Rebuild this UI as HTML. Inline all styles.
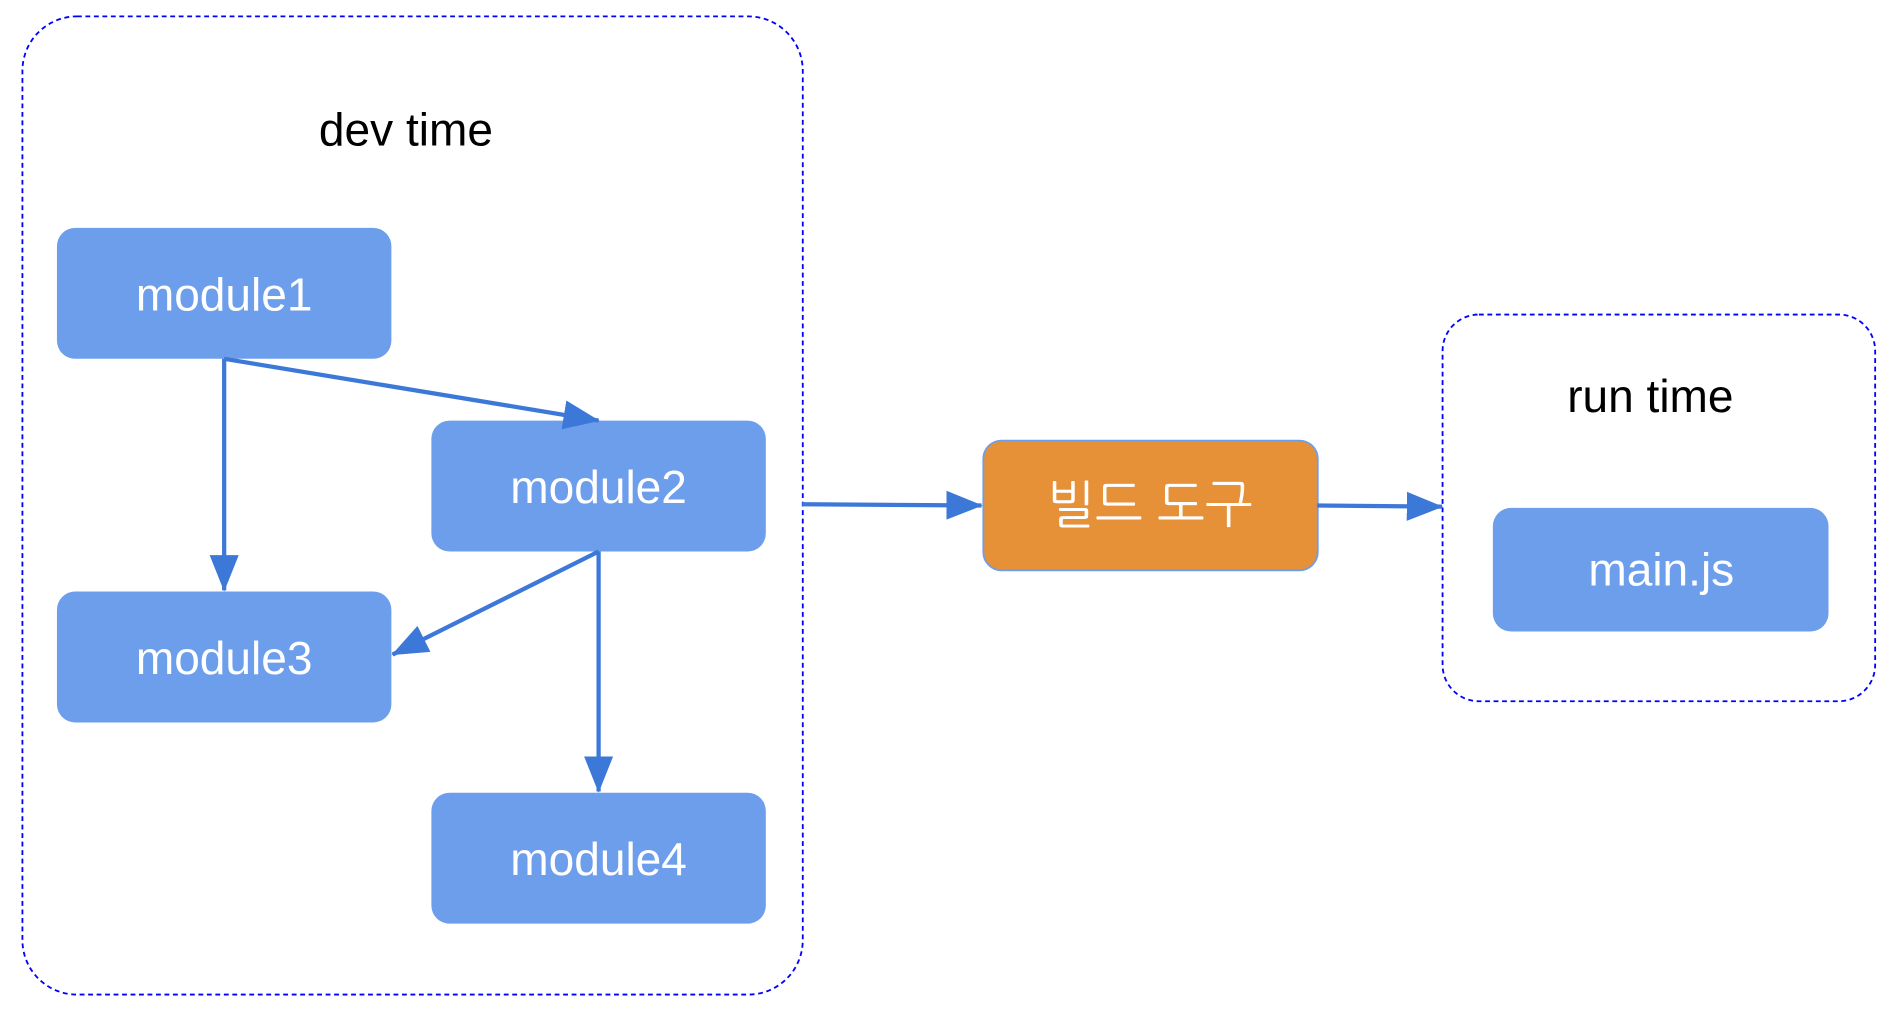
<!DOCTYPE html>
<html><head><meta charset="utf-8"><style>html,body{margin:0;padding:0;background:#fff;}svg{display:block}</style></head>
<body>
<svg width="1900" height="1017" viewBox="0 0 1568 839" preserveAspectRatio="none" xmlns="http://www.w3.org/2000/svg">
<defs>
<marker id="b" viewBox="0 0 30 24" refX="29" refY="12" markerWidth="30" markerHeight="24" orient="auto" markerUnits="userSpaceOnUse">
<path d="M0,0 L30,12 L0,24 Z" fill="#3c78d8"/></marker>
</defs>
<rect x="18.5" y="13.5" width="644" height="807" rx="45" fill="none" stroke="#0000ff" stroke-width="1.5" stroke-dasharray="4,3"/>
<rect x="1190.5" y="259.5" width="357" height="319" rx="30" fill="none" stroke="#0000ff" stroke-width="1.5" stroke-dasharray="4,3"/>
<g font-family="Liberation Sans, sans-serif" font-size="38" text-anchor="middle">
<text x="335" y="120" fill="#000">dev time</text>
<text x="1362" y="340" fill="#000">run time</text>
<rect x="47" y="188" width="276" height="108" rx="15" fill="#6d9eeb"/>
<text x="185" y="256" fill="#fff">module1</text>
<rect x="356" y="347" width="276" height="108" rx="15" fill="#6d9eeb"/>
<text x="494" y="415" fill="#fff">module2</text>
<rect x="47" y="488" width="276" height="108" rx="15" fill="#6d9eeb"/>
<text x="185" y="556" fill="#fff">module3</text>
<rect x="356" y="654" width="276" height="108" rx="15" fill="#6d9eeb"/>
<text x="494" y="722" fill="#fff">module4</text>
<rect x="811.5" y="363.5" width="276" height="107" rx="15" fill="#e69138" stroke="#6d9eeb" stroke-width="1.5"/>
<text x="949" y="431" fill="#fff" font-size="42" font-family="Liberation Sans, NanumGothic, 'Noto Sans CJK KR', sans-serif">빌드 도구</text>
<rect x="1232" y="419" width="277" height="102" rx="15" fill="#6d9eeb"/>
<text x="1371" y="483" fill="#fff">main.js</text>
</g>
<g stroke="#3c78d8" stroke-width="3.5" fill="none">
<line x1="185" y1="296" x2="185" y2="487" marker-end="url(#b)"/>
<line x1="185" y1="296" x2="494" y2="347" marker-end="url(#b)"/>
<line x1="494" y1="455" x2="324" y2="540" marker-end="url(#b)"/>
<line x1="494" y1="455" x2="494" y2="653" marker-end="url(#b)"/>
<line x1="662" y1="416" x2="810" y2="417" marker-end="url(#b)"/>
<line x1="1087" y1="417" x2="1190" y2="418" marker-end="url(#b)"/>
</g>
</svg>
</body></html>
